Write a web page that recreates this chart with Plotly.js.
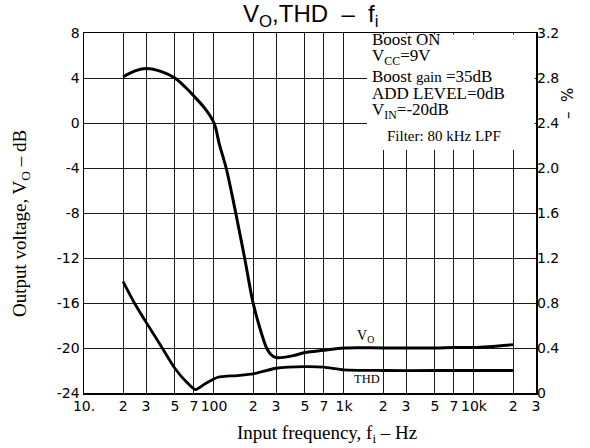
<!DOCTYPE html>
<html>
<head>
<meta charset="utf-8">
<script src="https://cdn.plot.ly/plotly-3.0.1.min.js"></script>
<style>html,body{margin:0;padding:0;background:#fff;}#chart{width:590px;height:448px;}</style>
</head>
<body>
<div id="chart"></div>
<script>
// Frequency axis ticks
const freqTicks = [10,20,30,50,70,100,200,300,500,700,1000,2000,3000,5000,7000,10000,20000,30000];
const freqTickText = ['10.','2','3','5','7','100','2','3','5','7','1k','2','3','5','7','10k','2','3'];
// Left axis (Vo, dB)
const voTicks = [-24,-20,-16,-12,-8,-4,0,4,8];
const voTickText = ['-24','-20','-16','-12','-8','-4','0','4','8'];
// Right axis (THD, %)
const thdTicks = [0,0.4,0.8,1.2,1.6,2.0,2.4,2.8,3.2];
const thdTickText = ['0','0.4','0.8','1.2','1.6','2.0','2.4','2.8','3.2'];

// Vo curve (dB)
const voFreq = [20,25,30,40,50,60,70,85,100,110,124,147,172,200,225,254,275,300,400,500,700,1000,2000,3000,5000,7000,10000,20000];
const voDb   = [4.1,4.65,4.85,4.55,4.0,3.2,2.4,1.3,0.0,-1.9,-4.0,-8.0,-12.0,-16.0,-18.2,-20.0,-20.6,-20.85,-20.7,-20.4,-20.2,-20.0,-20.0,-20.0,-20.0,-19.95,-19.95,-19.7];

// THD curve (%)
const thdFreq = [20,24.4,30,40,50,60,72,85,107,150,200,300,500,700,1000,2000,5000,10000,20000];
const thdPct  = [0.99,0.80,0.63,0.40,0.22,0.11,0.03,0.08,0.14,0.155,0.17,0.22,0.235,0.23,0.205,0.20,0.20,0.20,0.20];

const tickFont = {family:'DejaVu Sans', size:14, color:'#000'};
const serif = 'Liberation Serif';

const data = [
  {x:voFreq, y:voDb, type:'scatter', mode:'lines', line:{color:'#000', width:3, shape:'spline', smoothing:1}, hoverinfo:'skip', showlegend:false},
  {x:thdFreq, y:thdPct, yaxis:'y2', type:'scatter', mode:'lines', line:{color:'#000', width:2.8, shape:'spline', smoothing:0.6}, hoverinfo:'skip', showlegend:false}
];

const boxLines = [
  {t:'Boost ON', y:39},
  {t:'V<sub>CC</sub>=9V', y:57},
  {t:'Boost <span style="font-size:15px">gain</span> =35dB', y:76},
  {t:'ADD LEVEL=0dB', y:94},
  {t:'V<sub>IN</sub>=-20dB', y:111}
];
const L=84, R=536, T=33, B=393;
const px = v => (v-L)/(R-L);
const py = v => (B-v)/(B-T);

const annotations = boxLines.map(o => ({
  xref:'paper', yref:'paper', x:px(370), y:py(o.y), xanchor:'left', yanchor:'middle',
  text:o.t, showarrow:false, font:{family:serif, size:17, color:'#000'}
}));
annotations.push({xref:'paper', yref:'paper', x:px(385), y:py(136), xanchor:'left', yanchor:'middle',
  text:'Filter: 80 kHz LPF', showarrow:false, font:{family:serif, size:15, color:'#000'}});
annotations.push({xref:'paper', yref:'paper', x:px(355), y:py(336), xanchor:'left', yanchor:'middle',
  text:'V<sub>O</sub>', showarrow:false, font:{family:serif, size:14, color:'#000'}});
annotations.push({xref:'paper', yref:'paper', x:px(352), y:py(379), xanchor:'left', yanchor:'middle',
  text:'THD', showarrow:false, font:{family:serif, size:12.5, color:'#000'}});
// axis titles
annotations.push({xref:'paper', yref:'paper', x:px(21), y:py(224), xanchor:'center', yanchor:'middle', textangle:-90,
  text:'Output voltage, V<sub>O</sub> – dB', showarrow:false, font:{family:serif, size:19, color:'#000'}});
annotations.push({xref:'paper', yref:'paper', x:px(327), y:py(434), xanchor:'center', yanchor:'middle',
  text:'Input frequency, f<sub>i</sub> – Hz', showarrow:false, font:{family:serif, size:19, color:'#000'}});
annotations.push({xref:'paper', yref:'paper', x:px(568), y:py(104), xanchor:'center', yanchor:'middle', textangle:-90,
  text:'–  %', showarrow:false, font:{family:'DejaVu Sans', size:15, color:'#000'}});
annotations.push({xref:'paper', yref:'paper', x:px(311), y:py(16), xanchor:'center', yanchor:'middle',
  text:'V<sub>O</sub>,THD  –  f<sub>i</sub>', showarrow:false, font:{family:'Liberation Sans', size:24, color:'#000'}});

const layout = {
  width:590, height:448,
  margin:{l:L, r:590-R, t:T, b:448-B, pad:0},
  paper_bgcolor:'#fff', plot_bgcolor:'#fff',
  showlegend:false,
  xaxis:{type:'log', range:[1, Math.log10(30000)], tickvals:freqTicks, ticktext:freqTickText, tickmode:'array',
    showgrid:true, gridcolor:'#1a1a1a', gridwidth:1, showline:true, mirror:true, linecolor:'#000', linewidth:1.5,
    ticks:'', tickfont:tickFont, zeroline:false, fixedrange:true},
  yaxis:{range:[-24,8], tickvals:voTicks, ticktext:voTickText, tickmode:'array',
    showgrid:true, gridcolor:'#1a1a1a', gridwidth:1, showline:true, mirror:true, linecolor:'#000', linewidth:1.5,
    ticks:'', tickfont:tickFont, zeroline:false, fixedrange:true},
  yaxis2:{overlaying:'y', side:'right', range:[0,3.2], tickvals:thdTicks, ticktext:thdTickText, tickmode:'array',
    showgrid:false, zeroline:false, showline:false, ticks:'', tickfont:tickFont, fixedrange:true},
  shapes:[{type:'rect', xref:'paper', yref:'paper', x0:px(367), x1:px(534.5), y0:py(150), y1:py(34.5),
    fillcolor:'#fff', line:{width:0}, layer:'above'}],
  annotations:annotations
};
Plotly.newPlot('chart', data, layout, {staticPlot:true, displayModeBar:false});
</script>
</body>
</html>
